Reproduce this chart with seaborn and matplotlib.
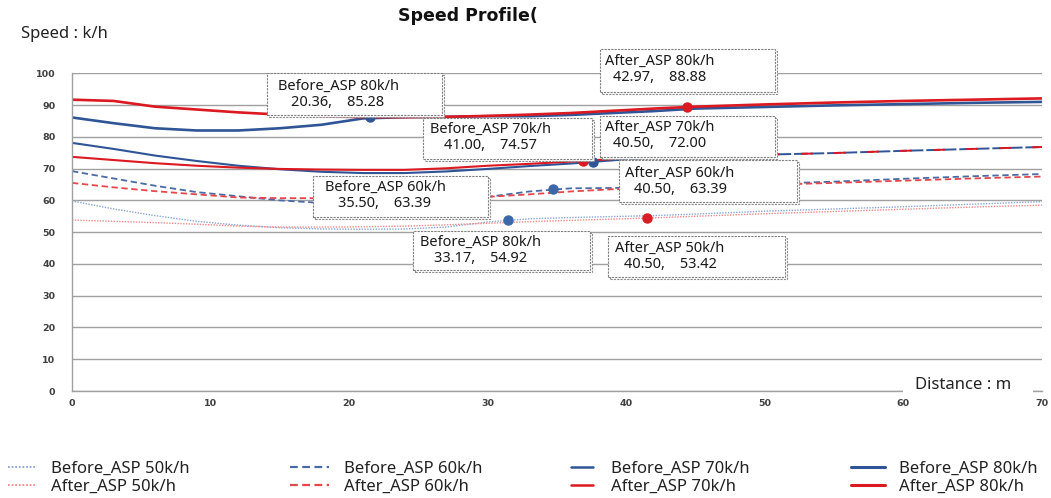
import numpy as np
import pandas as pd
import matplotlib
matplotlib.use("Agg")
import matplotlib.pyplot as plt
from matplotlib.lines import Line2D
from matplotlib.patches import Rectangle
import seaborn as sns

# ---- data ----
distance = [0, 3, 6, 9, 12, 15, 18, 21, 24, 27, 30, 33, 36, 39, 42, 45, 50, 55, 60, 65, 70]

before_50 = [59.8, 57.3, 55.2, 53.4, 52.2, 51.4, 51.0, 50.9, 51.0, 51.6, 53.2, 54.2, 54.6, 54.9, 55.2, 55.7, 56.6, 57.3, 58.0, 58.8, 59.6]
after_50 = [53.8, 53.4, 53.0, 52.5, 51.9, 51.6, 51.6, 51.7, 51.9, 52.3, 52.8, 53.3, 53.7, 54.1, 54.5, 55.0, 55.8, 56.5, 57.2, 57.9, 58.5]
before_60 = [69.2, 66.9, 64.6, 62.6, 61.3, 60.0, 59.2, 59.0, 59.3, 60.0, 61.1, 62.8, 63.8, 63.9, 64.1, 64.4, 65.2, 65.9, 66.8, 67.6, 68.3]
after_60 = [65.5, 64.1, 62.9, 61.9, 60.9, 60.7, 60.7, 60.6, 60.6, 60.8, 61.1, 61.9, 62.8, 63.5, 63.8, 64.2, 64.9, 65.5, 66.2, 66.9, 67.5]
before_70 = [78.1, 76.2, 74.1, 72.4, 70.9, 69.8, 69.0, 68.6, 68.6, 69.1, 69.9, 70.8, 71.6, 72.6, 73.4, 73.9, 74.4, 74.9, 75.6, 76.2, 76.8]
after_70 = [73.7, 72.7, 71.7, 70.9, 70.3, 69.9, 69.7, 69.6, 69.6, 70.1, 70.9, 71.5, 72.2, 73.0, 73.4, 73.9, 74.4, 74.9, 75.6, 76.2, 76.8]
before_80 = [86.1, 84.3, 82.7, 82.0, 82.0, 82.7, 83.8, 85.8, 86.2, 86.3, 86.5, 86.5, 86.9, 87.5, 88.1, 88.9, 89.4, 89.9, 90.3, 90.7, 91.0]
after_80 = [91.7, 91.3, 89.5, 88.6, 87.7, 87.0, 86.5, 86.2, 86.2, 86.3, 86.6, 87.0, 87.5, 88.2, 88.9, 89.5, 90.2, 90.8, 91.3, 91.7, 92.1]

series_names = ["Before_ASP 50k/h", "After_ASP 50k/h", "Before_ASP 60k/h", "After_ASP 60k/h",
                "Before_ASP 70k/h", "After_ASP 70k/h", "Before_ASP 80k/h", "After_ASP 80k/h"]
series_values = [before_50, after_50, before_60, after_60, before_70, after_70, before_80, after_80]

# highlighted points
marker_series = ["Before_ASP 80k/h", "After_ASP 80k/h", "Before_ASP 70k/h", "After_ASP 70k/h",
                 "Before_ASP 60k/h", "Before_ASP 50k/h", "After_ASP 50k/h"]
marker_x = [21.5, 44.4, 37.6, 36.9, 34.7, 31.5, 41.5]
marker_y = [86.2, 89.4, 72.1, 72.4, 63.6, 53.8, 54.4]

# callout texts
callout_titles = ["Before_ASP 80k/h", "After_ASP 80k/h", "Before_ASP 70k/h", "After_ASP 70k/h",
                  "Before_ASP 60k/h", "After_ASP 60k/h", "Before_ASP 80k/h", "After_ASP 50k/h"]
callout_values = ["20.36,    85.28", "42.97,    88.88", "41.00,    74.57", "40.50,    72.00",
                  "35.50,    63.39", "40.50,    63.39", "33.17,    54.92", "40.50,    53.42"]

# ---- styling ----
BLUE = "#2F5597"
RED = "#DC1820"
styles = {
    "Before_ASP 50k/h": dict(color="#8AA4D6", lw=1.0, ls=(0, (1, 1))),
    "After_ASP 50k/h": dict(color="#F08A8A", lw=1.0, ls=(0, (1, 1))),
    "Before_ASP 60k/h": dict(color="#4A6BA6", lw=1.3, ls=(0, (3.5, 2))),
    "After_ASP 60k/h": dict(color="#E6474C", lw=1.3, ls=(0, (3.5, 2))),
    "Before_ASP 70k/h": dict(color=BLUE, lw=1.5, ls="-"),
    "After_ASP 70k/h": dict(color=RED, lw=1.5, ls="-"),
    "Before_ASP 80k/h": dict(color=BLUE, lw=1.9, ls="-"),
    "After_ASP 80k/h": dict(color=RED, lw=1.9, ls="-"),
}
SOLID_END_70 = 39  # 70k/h curves switch to a long-dash look past this distance

# callout layout in figure pixels: left, top, right, bottom, text centre x, text centre y
callout_boxes = [
    (267, 73, 442, 115, 338, 94),
    (600, 49, 775, 92, 660, 69),
    (423, 118, 592, 159, 490, 137),
    (600, 116, 775, 157, 660, 135),
    (313, 176, 488, 217, 385, 195),
    (619, 160, 797, 202, 680, 181),
    (413, 231, 590, 270, 481, 250),
    (608, 236, 785, 277, 670, 256),
]

W, H = 1051, 498

sns.set_theme(style="white")
plt.rcParams["font.family"] = ["Noto Sans", "DejaVu Sans"]

df = pd.DataFrame({
    "distance": np.tile(distance, len(series_names)),
    "speed": np.concatenate(series_values),
    "series": np.repeat(series_names, len(distance)),
})


def fx(px):
    return px / W


def fy(py):
    return 1 - py / H


def main():
    fig = plt.figure(figsize=(W / 100, H / 100), dpi=100)
    ax = fig.add_axes([fx(72), fy(391), fx(1042) - fx(72), fy(73.3) - fy(391)])

    for name in series_names:
        st = styles[name]
        sub = df[df["series"] == name]
        if "70k/h" in name:
            solid = sub[sub["distance"] <= SOLID_END_70]
            tail = sub[sub["distance"] >= SOLID_END_70]
            sns.lineplot(data=solid, x="distance", y="speed", ax=ax, color=st["color"],
                         lw=st["lw"], estimator=None, sort=False)
            if name.startswith("Before"):
                tail_ls = (0, (7, 1.5))
            else:
                tail_ls = (5, (6, 11))
            sns.lineplot(data=tail, x="distance", y="speed", ax=ax, color=st["color"],
                         lw=1.4, linestyle=tail_ls, estimator=None, sort=False)
        else:
            sns.lineplot(data=sub, x="distance", y="speed", ax=ax, color=st["color"],
                         lw=st["lw"], linestyle=st["ls"], estimator=None, sort=False)

    for name, mx, my in zip(marker_series, marker_x, marker_y):
        col = BLUE if name.startswith("Before") else RED
        if "50" in name or "60" in name:
            col = "#3D68A8" if name.startswith("Before") else "#D81E24"
        ax.plot(mx, my, "o", color=col, ms=6.5, zorder=4)

    ax.set_xlim(0, 70)
    ax.set_ylim(0, 100)
    ax.set_xticks(np.arange(0, 71, 10))
    ax.set_yticks(np.arange(0, 101, 10))
    ax.set_xlabel("")
    ax.set_ylabel("")
    ax.yaxis.grid(True, color="#A0A0A0", lw=1.0)
    ax.xaxis.grid(False)
    for side in ["top", "right"]:
        ax.spines[side].set_visible(False)
    for side in ["left", "bottom"]:
        ax.spines[side].set_color("#A0A0A0")
        ax.spines[side].set_linewidth(1.0)
    ax.tick_params(axis="both", length=0, labelsize=6.8, labelcolor="#404040")
    ax.tick_params(axis="y", pad=12)
    ax.tick_params(axis="x", pad=6)
    for lab in ax.get_xticklabels() + ax.get_yticklabels():
        lab.set_fontweight("bold")
        lab.set_family("DejaVu Sans")

    # callouts
    for (l, t, r, b, cx, cy), title, val in zip(callout_boxes, callout_titles, callout_values):
        shadow = Rectangle((fx(l + 2), fy(b + 2)), fx(r) - fx(l), fy(t) - fy(b),
                           transform=fig.transFigure, fc="white", ec="#8C8C8C",
                           lw=0.8, ls=(0, (2, 1)), zorder=5)
        box = Rectangle((fx(l), fy(b)), fx(r) - fx(l), fy(t) - fy(b),
                        transform=fig.transFigure, fc="white", ec="#7F7F7F",
                        lw=0.8, ls=(0, (2, 1)), zorder=6)
        fig.patches.extend([shadow, box])
        fig.text(fx(cx), fy(cy), title + "\n" + val, ha="center", va="center",
                 multialignment="center", fontsize=10.5, color="#1A1A1A",
                 linespacing=1.1, zorder=7)

    fig.text(fx(398), fy(16), "Speed Profile(", fontsize=12.5, fontweight="bold",
             family="DejaVu Sans", va="center", ha="left", color="#111111")
    fig.text(fx(21), fy(34), "Speed : k/h", fontsize=12, va="center", ha="left",
             color="#222222")
    fig.patches.append(Rectangle((fx(903), fy(396)), fx(1033) - fx(903), fy(376) - fy(396),
                                 transform=fig.transFigure, fc="white", ec="none", zorder=5))
    fig.text(fx(915), fy(385), "Distance : m", fontsize=12, va="center", ha="left",
             color="#222222", zorder=6)

    # legend: four columns of two entries each
    col_x = [7, 289, 570, 850]
    handle_len = [1.7, 2.3, 1.3, 2.0]
    text_pad = [0.85, 0.95, 1.08, 0.85]
    for i in range(4):
        handles = []
        labels = []
        for name in series_names[2 * i:2 * i + 2]:
            st = styles[name]
            handles.append(Line2D([], [], color=st["color"], lw=st["lw"] + 0.3, ls=st["ls"]))
            labels.append(name)
        leg = fig.legend(handles, labels, loc="upper left",
                         bbox_to_anchor=(fx(col_x[i] - 7), fy(452)), frameon=False,
                         fontsize=12, borderpad=0, handlelength=handle_len[i],
                         handletextpad=text_pad[i], labelspacing=0.15)
        for txt in leg.get_texts():
            txt.set_color("#222222")

    fig.savefig("out.png", dpi=100)
    plt.close(fig)


if __name__ == "__main__":
    main()
